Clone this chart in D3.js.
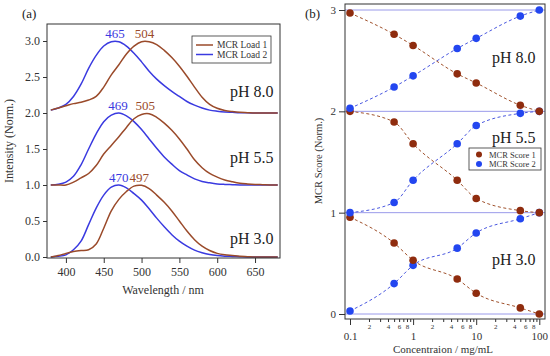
<!DOCTYPE html>
<html>
<head>
<meta charset="utf-8">
<script src="https://cdn.jsdelivr.net/npm/d3@7"></script>
<style>
  body { margin: 0; background: #fff; }
  svg text { font-family: "Liberation Serif", "DejaVu Serif", serif; fill: #333; }
</style>
</head>
<body>
<script>
// ---- panel (a) data: normalised spectra, offset by pH row ----
var wavelength = d3.range(380, 681, 10);
var phLabels = ["pH 3.0", "pH 5.5", "pH 8.0"];
var phOffset = [0, 1, 2];

var load1_ph30 = [0, 0.02, 0.05, 0.075, 0.09, 0.10, 0.18, 0.40, 0.64, 0.80, 0.91, 0.985, 0.995, 0.95, 0.86, 0.76, 0.64, 0.50, 0.36, 0.24, 0.15, 0.09, 0.05, 0.03, 0.02, 0.01, 0.005, 0, 0, 0, 0];
var load2_ph30 = [0, 0.01, 0.03, 0.10, 0.22, 0.45, 0.68, 0.86, 0.97, 1.0, 0.96, 0.88, 0.79, 0.67, 0.54, 0.42, 0.31, 0.22, 0.15, 0.095, 0.06, 0.035, 0.02, 0.012, 0.008, 0.004, 0, 0, 0, 0, 0];
var load1_ph55 = [0, 0, 0, 0.04, 0.10, 0.16, 0.27, 0.43, 0.55, 0.67, 0.80, 0.92, 0.98, 0.99, 0.94, 0.86, 0.76, 0.64, 0.50, 0.35, 0.24, 0.16, 0.11, 0.07, 0.045, 0.025, 0.015, 0.008, 0.004, 0, 0];
var load2_ph55 = [0, 0.01, 0.04, 0.12, 0.28, 0.50, 0.71, 0.88, 0.97, 1.0, 0.96, 0.88, 0.77, 0.64, 0.51, 0.39, 0.29, 0.20, 0.14, 0.085, 0.05, 0.03, 0.015, 0.008, 0.004, 0, 0, 0, 0, 0, 0];
var load1_ph80 = [0.04, 0.07, 0.10, 0.13, 0.15, 0.18, 0.23, 0.36, 0.53, 0.67, 0.82, 0.93, 0.99, 0.99, 0.95, 0.87, 0.77, 0.65, 0.51, 0.36, 0.22, 0.12, 0.065, 0.035, 0.02, 0.01, 0.005, 0, 0, 0, 0];
var load2_ph80 = [0.04, 0.07, 0.12, 0.23, 0.40, 0.62, 0.80, 0.93, 0.99, 0.99, 0.93, 0.83, 0.71, 0.58, 0.47, 0.38, 0.30, 0.23, 0.16, 0.11, 0.07, 0.04, 0.025, 0.015, 0.01, 0.005, 0.003, 0, 0, 0, 0];

var peak1 = [497, 505, 504];
var peak2 = [470, 469, 465];

// ---- panel (b) data: MCR scores vs concentration ----
var conc = [0.1, 0.5, 1, 5, 10, 50, 100];
var score1_ph30 = [0.955, 0.70, 0.53, 0.345, 0.205, 0.06, 0.0];
var score2_ph30 = [0.03, 0.30, 0.48, 0.65, 0.80, 0.94, 1.0];
var score1_ph55 = [1.0, 0.895, 0.68, 0.32, 0.14, 0.02, 0.0];
var score2_ph55 = [0.0, 0.10, 0.32, 0.68, 0.86, 0.98, 1.0];
var score1_ph80 = [0.97, 0.76, 0.65, 0.37, 0.28, 0.06, 0.0];
var score2_ph80 = [0.03, 0.24, 0.35, 0.62, 0.72, 0.94, 1.0];

var brown = "#9a4a2a", blue = "#3a3ae0";
var dotBrown = "#8f2c0e", dotBlue = "#2346f0";

var svg = d3.select("body").append("svg")
    .attr("width", 550)
    .attr("height", 356);

// ================= panel (a) =================
var ax = d3.scaleLinear().domain([375, 683]).range([47, 280]);
var ay = d3.scaleLinear().domain([0, 3]).range([257, 41]);

var gA = svg.append("g");

gA.append("g")
    .attr("transform", "translate(47,0)")
    .call(d3.axisLeft(ay).tickValues([0, 0.5, 1, 1.5, 2, 2.5, 3]).tickFormat(d3.format(".1f")).tickSize(4).tickPadding(3))
    .call(function (g) { g.select(".domain").remove(); })
    .call(function (g) { g.selectAll("text").style("font-size", "12px"); });

gA.append("g")
    .attr("transform", "translate(0,258)")
    .call(d3.axisBottom(ax).tickValues([400, 450, 500, 550, 600, 650]).tickSize(5).tickPadding(4))
    .call(function (g) { g.select(".domain").remove(); })
    .call(function (g) { g.selectAll("text").style("font-size", "12px"); });

gA.selectAll(".tick line").attr("stroke", "#333");

var spectra = [
  [load1_ph30, load2_ph30],
  [load1_ph55, load2_ph55],
  [load1_ph80, load2_ph80]
];

var specLine = d3.line().curve(d3.curveCatmullRom);
var phDyA = [-13, -22, -16];

spectra.forEach(function (pair, i) {
  [1, 0].forEach(function (k) {
    var pts = wavelength.map(function (w, j) { return [ax(w), ay(pair[k][j] + phOffset[i])]; });
    gA.append("path")
        .attr("d", specLine(pts))
        .attr("fill", "none")
        .attr("stroke", k == 0 ? brown : blue)
        .attr("stroke-width", 1.5);
  });
  gA.append("text")
      .attr("x", ax(peak2[i])).attr("y", ay(phOffset[i] + 1) - 3)
      .attr("text-anchor", "middle")
      .style("font-size", "13px").style("fill", blue)
      .text(peak2[i]);
  gA.append("text")
      .attr("x", ax(peak1[i])).attr("y", ay(phOffset[i] + 1) - 3)
      .attr("text-anchor", "middle")
      .style("font-size", "13px").style("fill", brown)
      .text(peak1[i]);
  gA.append("text")
      .attr("x", 230).attr("y", ay(phOffset[i]) + phDyA[i])
      .style("font-size", "16px").style("fill", "#222")
      .text(phLabels[i]);
});

gA.append("rect")
    .attr("x", 47).attr("y", 24).attr("width", 233).attr("height", 234)
    .attr("fill", "none").attr("stroke", "#333").attr("stroke-width", 1);

// legend (a)
var legA = gA.append("g");
legA.append("rect")
    .attr("x", 192).attr("y", 36).attr("width", 79).attr("height", 27)
    .attr("fill", "#fff").attr("stroke", "#333").attr("stroke-width", 0.8);
[["MCR Load 1", brown], ["MCR Load 2", blue]].forEach(function (d, i) {
  var yy = 45 + i * 9.5;
  legA.append("line").attr("x1", 196).attr("x2", 213).attr("y1", yy).attr("y2", yy)
      .attr("stroke", d[1]).attr("stroke-width", 1.5);
  legA.append("text").attr("x", 217).attr("y", yy + 3.3)
      .style("font-size", "9.5px").text(d[0]);
});

gA.append("text")
    .attr("x", 163).attr("y", 294)
    .attr("text-anchor", "middle")
    .style("font-size", "12px")
    .text("Wavelength / nm");

gA.append("text")
    .attr("transform", "translate(13,141) rotate(-90)")
    .attr("text-anchor", "middle")
    .style("font-size", "12px")
    .text("Intensity (Norm.)");

svg.append("text").attr("x", 22).attr("y", 18)
    .style("font-size", "13px").style("fill", "#222").text("(a)");

// ================= panel (b) =================
var bx = d3.scaleLog().domain([0.1, 100]).range([350, 539.3]);
var by = d3.scaleLinear().domain([0, 3]).range([314, 10]);

var gB = svg.append("g");

// reference lines at each integer level
gB.selectAll(".ref")
    .data([0, 1, 2, 3])
    .enter().append("line")
    .attr("x1", 345).attr("x2", 545)
    .attr("y1", function (d) { return by(d); })
    .attr("y2", function (d) { return by(d); })
    .attr("stroke", "#8e8ee8").attr("stroke-width", 0.9);

gB.append("g")
    .attr("transform", "translate(345,0)")
    .call(d3.axisLeft(by).tickValues([0, 1, 2, 3]).tickFormat(d3.format("d")).tickSize(6).tickPadding(3))
    .call(function (g) { g.select(".domain").remove(); })
    .call(function (g) { g.selectAll("text").style("font-size", "11px"); });

var majors = [0.1, 1, 10, 100];
var minors = [];
[0.1, 1, 10].forEach(function (dec) {
  d3.range(2, 10).forEach(function (m) { minors.push(+(dec * m).toPrecision(3)); });
});

gB.append("g")
    .attr("transform", "translate(0,319)")
    .call(d3.axisBottom(bx).tickValues(minors).tickSize(3).tickPadding(2)
        .tickFormat(function (d) {
          var m = Math.round(d / Math.pow(10, Math.floor(Math.log10(d) + 1e-9)));
          return m % 2 == 0 ? m : "";
        }))
    .call(function (g) { g.select(".domain").remove(); })
    .call(function (g) { g.selectAll("text").style("font-size", "7px"); });

gB.append("g")
    .attr("transform", "translate(0,319)")
    .call(d3.axisBottom(bx).tickValues(majors).tickSize(6).tickPadding(7)
        .tickFormat(function (d) { return d; }))
    .call(function (g) { g.select(".domain").remove(); })
    .call(function (g) { g.selectAll("text").style("font-size", "11px"); });

gB.selectAll(".tick line").attr("stroke", "#333");

var scores = [
  [score1_ph30, score2_ph30],
  [score1_ph55, score2_ph55],
  [score1_ph80, score2_ph80]
];

var fitLine = d3.line().curve(d3.curveMonotoneX);
var phDyB = [2, -19, 2];

scores.forEach(function (pair, i) {
  [0, 1].forEach(function (k) {
    var pts = conc.map(function (c, j) { return [bx(c), by(pair[k][j] + phOffset[i])]; });
    gB.append("path")
        .attr("d", fitLine(pts))
        .attr("fill", "none")
        .attr("stroke", k == 0 ? "#a0522d" : "#4a58e0")
        .attr("stroke-width", 1)
        .attr("stroke-dasharray", "3,2.5");
  });
});

scores.forEach(function (pair, i) {
  [1, 0].forEach(function (k) {
    gB.selectAll(null)
        .data(conc)
        .enter().append("circle")
        .attr("cx", function (c) { return bx(c); })
        .attr("cy", function (c, j) { return by(pair[k][j] + phOffset[i]); })
        .attr("r", 3.8)
        .attr("fill", k == 0 ? dotBrown : dotBlue);
  });
  gB.append("text")
      .attr("x", 492).attr("y", by(phOffset[i] + 0.5) + phDyB[i])
      .style("font-size", "16px").style("fill", "#222")
      .text(phLabels[i]);
});

gB.append("rect")
    .attr("x", 345).attr("y", 4).attr("width", 200).attr("height", 315)
    .attr("fill", "none").attr("stroke", "#333").attr("stroke-width", 1);

// legend (b)
var legB = gB.append("g");
legB.append("rect")
    .attr("x", 469).attr("y", 148).attr("width", 72).attr("height", 22)
    .attr("fill", "#fff").attr("stroke", "#333").attr("stroke-width", 0.8);
[["MCR Score 1", dotBrown], ["MCR Score 2", dotBlue]].forEach(function (d, i) {
  var yy = 154.5 + i * 9.5;
  legB.append("circle").attr("cx", 479).attr("cy", yy).attr("r", 3)
      .attr("fill", d[1]);
  legB.append("text").attr("x", 489).attr("y", yy + 3)
      .style("font-size", "8.5px").text(d[0]);
});

gB.append("text")
    .attr("x", 443).attr("y", 353)
    .attr("text-anchor", "middle")
    .style("font-size", "11px")
    .text("Concentraion / mg/mL");

gB.append("text")
    .attr("transform", "translate(322,161) rotate(-90)")
    .attr("text-anchor", "middle")
    .style("font-size", "10.5px")
    .text("MCR Score (Norm.)");

svg.append("text").attr("x", 305).attr("y", 18)
    .style("font-size", "13px").style("fill", "#222").text("(b)");
</script>
</body>
</html>
